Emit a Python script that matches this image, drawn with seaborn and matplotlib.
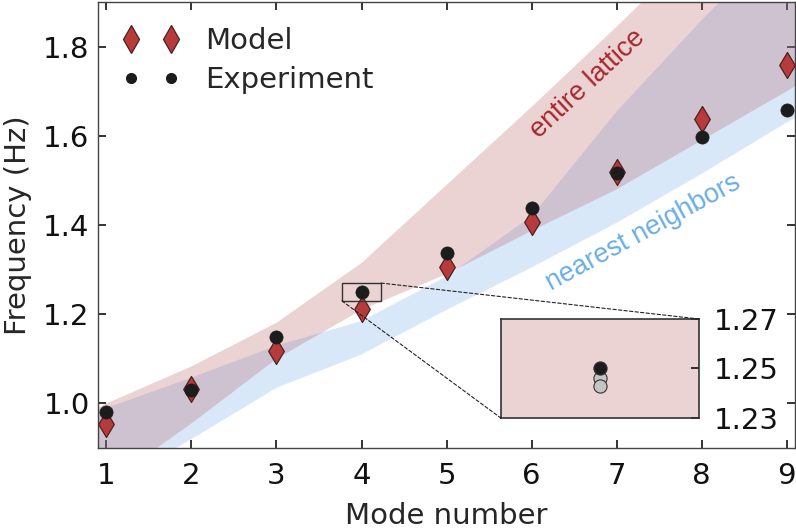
import numpy as np
import pandas as pd
import matplotlib
matplotlib.use("Agg")
import matplotlib.pyplot as plt
from matplotlib.lines import Line2D
from matplotlib.patches import Rectangle, ConnectionPatch
import seaborn as sns

# mode frequencies (Hz)
modes = [1, 2, 3, 4, 5, 6, 7, 8, 9]
model = [0.955, 1.032, 1.118, 1.212, 1.306, 1.408, 1.518, 1.637, 1.758]
experiment = [0.980, 1.030, 1.150, 1.250, 1.338, 1.438, 1.517, 1.598, 1.658]

# shaded model ranges
band_x = [0.9, 1, 2, 3, 4, 5, 6, 7, 8, 9, 9.1]
lattice_hi = [0.99, 1.00, 1.083, 1.181, 1.315, 1.49, 1.665, 1.845, 2.03, 2.20, 2.22]
lattice_lo = [0.81, 0.82, 0.955, 1.10, 1.21, 1.29, 1.387, 1.48, 1.59, 1.70, 1.712]
neigh_hi = [0.985, 0.99, 1.058, 1.13, 1.185, 1.285, 1.42, 1.655, 1.86, 2.05, 2.07]
neigh_lo = [0.80, 0.81, 0.92, 1.035, 1.11, 1.21, 1.305, 1.405, 1.515, 1.63, 1.641]

# zoomed repeats of mode 4
inset_mode = [4, 4, 4]
inset_freq = [1.246, 1.243, 1.250]
inset_cols = ['#c4c4c4', '#c4c4c4', '#1c1c1c']

red_fill = '#b35357'
blue_fill = '#6ba7eb'
diam_col = '#b83b3b'
dot_col = '#1c1c1c'
fs = 21

sns.set_style('ticks')
plt.rcParams['font.family'] = ['DejaVu Sans']

df = pd.DataFrame({'mode': modes, 'model': model, 'experiment': experiment})

fig = plt.figure(figsize=(7.96, 5.29), dpi=100)
ax = fig.add_axes([0.123, 0.153, 0.876, 0.843])

ax.fill_between(band_x, neigh_lo, neigh_hi, color=blue_fill, alpha=0.25, lw=0, zorder=1)
ax.fill_between(band_x, lattice_lo, lattice_hi, color=red_fill, alpha=0.25, lw=0, zorder=1)

sns.scatterplot(data=df, x='mode', y='model', marker='d', s=175, color=diam_col,
                edgecolor='#4a2020', linewidth=0.9, ax=ax, zorder=3)
sns.scatterplot(data=df, x='mode', y='experiment', marker='o', s=90, color=dot_col,
                edgecolor=dot_col, linewidth=0.5, ax=ax, zorder=4)

ax.text(6.66, 1.716, 'entire lattice', color='#a8282c', fontsize=19.5,
        family='Liberation Sans', rotation=43, ha='center', va='center', zorder=2)
ax.text(7.31, 1.382, 'nearest neighbors', color='#6aaee6', fontsize=19.5,
        family='Liberation Sans', rotation=28.5, ha='center', va='center', zorder=2)

ax.set_xlim(0.9, 9.1)
ax.set_ylim(0.9, 1.9)
ax.set_xticks(modes)
ax.set_yticks([1.0, 1.2, 1.4, 1.6, 1.8])
ax.set_yticklabels(['1.0', '1.2', '1.4', '1.6', '1.8'])
ax.tick_params(direction='in', top=True, right=True, length=6, width=1.2,
               labelsize=fs, colors='#111111')
ax.tick_params(axis='x', pad=10)
ax.tick_params(axis='y', pad=6)
for sp in ax.spines.values():
    sp.set_color('#444444')
    sp.set_linewidth(1.0)
ax.set_xlabel('Mode number', fontsize=fs, labelpad=9)
ax.set_ylabel('Frequency (Hz)', fontsize=fs, labelpad=8)

handles = [
    Line2D([], [], ls='none', marker='d', markersize=14, markerfacecolor=diam_col,
           markeredgecolor='#4a2020', markeredgewidth=0.9),
    Line2D([], [], ls='none', marker='o', markersize=7, markerfacecolor=dot_col,
           markeredgecolor=dot_col),
]
ax.legend(handles, ['Model', 'Experiment'], loc='upper left', numpoints=2,
          frameon=False, fontsize=fs, handlelength=1.95, handletextpad=0.87,
          labelspacing=0.38, borderaxespad=0.45)

# zoom box and inset
x0, x1, y0, y1 = 3.77, 4.23, 1.23, 1.27
ax.add_patch(Rectangle((x0, y0), x1 - x0, y1 - y0, fill=False, ec='#333333', lw=1.0, zorder=5))

axin = fig.add_axes([0.629, 0.21, 0.249, 0.187])
axin.set_facecolor((*matplotlib.colors.to_rgb(red_fill), 0.25))
for m, f, c in zip(inset_mode, inset_freq, inset_cols):
    axin.scatter([m], [f], s=90, color=c, edgecolor='#333333', linewidth=0.8, zorder=3)
axin.set_xlim(x0, x1)
axin.set_ylim(y0, y1)
axin.set_xticks([])
axin.set_yticks([1.23, 1.25, 1.27])
axin.set_yticklabels(['1.23', '1.25', '1.27'])
axin.yaxis.tick_right()
axin.tick_params(axis='y', direction='in', length=6, width=1.2, labelsize=fs,
                 pad=11, colors='#111111', left=False, right=True)
for sp in axin.spines.values():
    sp.set_color('#333333')
    sp.set_linewidth(1.2)

for (xa, ya) in [(x1, y1), (x0, y0)]:
    con = ConnectionPatch(xyA=(xa, ya), coordsA=ax.transData, xyB=(xa, ya),
                          coordsB=axin.transData, ls=(0, (3, 2)), lw=0.8, color='#222222')
    fig.add_artist(con)

fig.savefig('out.png', dpi=100)
